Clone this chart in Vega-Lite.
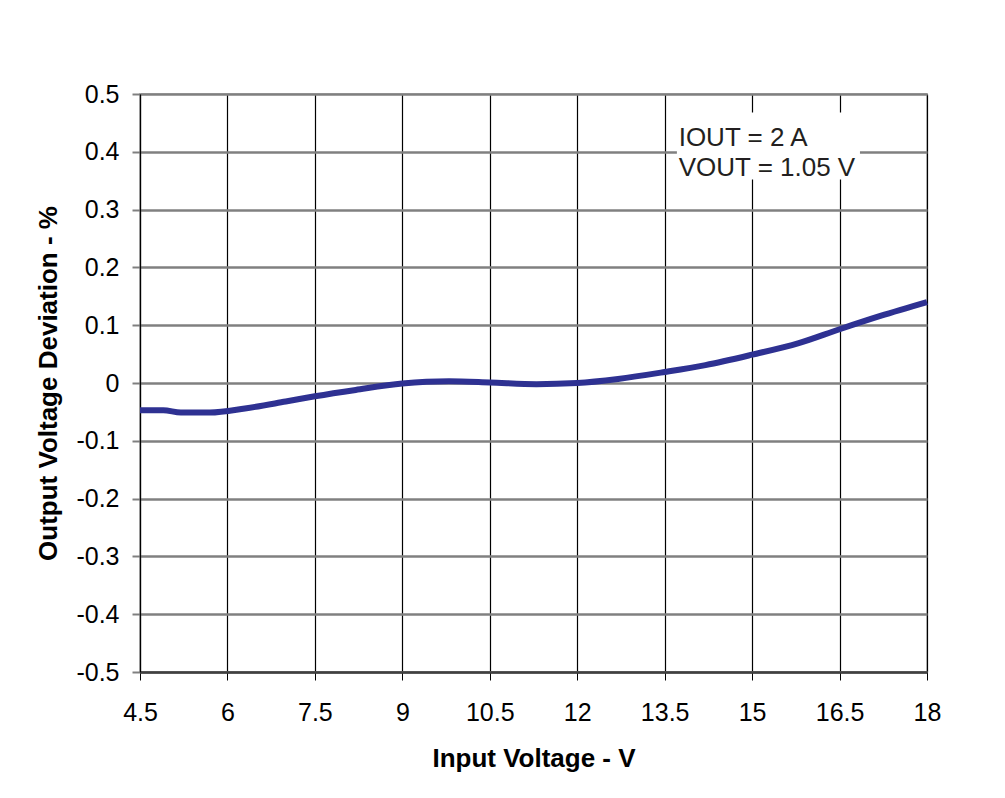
{
  "$schema": "https://vega.github.io/schema/vega-lite/v6.json",
  "width": 787,
  "height": 578,
  "autosize": {"type": "none"},
  "padding": {"left": 140, "top": 94, "right": 78, "bottom": 126},
  "background": "white",
  "config": {
    "font": "Liberation Sans",
    "view": {"stroke": "#c0c0c0", "strokeWidth": 2}
  },
  "datasets": {
    "curve": [
      {"vin": 4.5, "dev": -0.047},
      {"vin": 4.9, "dev": -0.047},
      {"vin": 5.2, "dev": -0.051},
      {"vin": 5.7, "dev": -0.051},
      {"vin": 6.3, "dev": -0.044},
      {"vin": 7.0, "dev": -0.032},
      {"vin": 7.5, "dev": -0.023},
      {"vin": 8.2, "dev": -0.012},
      {"vin": 9.0, "dev": -0.001},
      {"vin": 9.8, "dev": 0.003},
      {"vin": 10.5, "dev": 0.001},
      {"vin": 11.3, "dev": -0.002},
      {"vin": 12.0, "dev": 0.0},
      {"vin": 12.7, "dev": 0.007},
      {"vin": 13.5, "dev": 0.019},
      {"vin": 14.2, "dev": 0.031},
      {"vin": 15.0, "dev": 0.049},
      {"vin": 15.8, "dev": 0.069},
      {"vin": 16.5, "dev": 0.093},
      {"vin": 17.2, "dev": 0.116},
      {"vin": 18.0, "dev": 0.14}
    ],
    "notes": [
      {"x": 13.74, "y": 0.4247, "label": "IOUT = 2 A"},
      {"x": 13.74, "y": 0.3728, "label": "VOUT = 1.05 V"}
    ],
    "box": [
      {"x1": 13.71, "x2": 16.85, "y1": 0.352, "y2": 0.468}
    ]
  },
  "layer": [
    {
      "data": {"name": "curve"},
      "mark": {"type": "line", "color": "#2E3192", "strokeWidth": 6, "interpolate": "monotone", "strokeCap": "butt"},
      "encoding": {
        "x": {
          "field": "vin", "type": "quantitative",
          "scale": {"domain": [4.5, 18], "nice": false, "zero": false},
          "axis": {
            "values": [4.5, 6, 7.5, 9, 10.5, 12, 13.5, 15, 16.5, 18],
            "labelExpr": "replace(format(datum.value, '~g'), '\u2212', '-')",
            "title": "Input Voltage - V",
            "titleFontSize": 26, "titleFontWeight": "bold", "titleColor": "#000",
            "titlePadding": 20,
            "labelFontSize": 25, "labelColor": "#000", "labelPadding": 20,
            "labelFont": "Liberation Sans", "titleFont": "Liberation Sans",
            "domainColor": "#404040", "domainWidth": 2.5,
            "tickColor": "#000", "tickSize": 8, "tickWidth": 1,
            "grid": true, "gridColor": "#000", "gridWidth": 1.2,
            "labelFlush": false
          }
        },
        "y": {
          "field": "dev", "type": "quantitative",
          "scale": {"domain": [-0.5, 0.5], "nice": false, "zero": false},
          "axis": {
            "values": [-0.5, -0.4, -0.3, -0.2, -0.1, 0, 0.1, 0.2, 0.3, 0.4, 0.5],
            "labelExpr": "replace(format(datum.value, '~g'), '\u2212', '-')",
            "title": "Output Voltage Deviation - %",
            "titleFontSize": 26, "titleFontWeight": "bold", "titleColor": "#000",
            "titlePadding": 14,
            "labelFontSize": 25, "labelColor": "#000", "labelPadding": 13,
            "labelFont": "Liberation Sans", "titleFont": "Liberation Sans",
            "domain": true, "domainColor": "#000", "domainWidth": 1.2,
            "tickColor": "#808080", "tickSize": 8, "tickWidth": 2,
            "grid": true, "gridColor": "#808080", "gridWidth": 2.5,
            "labelFlush": false
          }
        }
      }
    },
    {
      "data": {"name": "box"},
      "mark": {"type": "rect", "color": "white", "opacity": 1},
      "encoding": {
        "x": {"field": "x1", "type": "quantitative"},
        "x2": {"field": "x2"},
        "y": {"field": "y1", "type": "quantitative"},
        "y2": {"field": "y2"}
      }
    },
    {
      "data": {"name": "notes"},
      "mark": {"type": "text", "align": "left", "baseline": "middle", "fontSize": 26, "font": "Liberation Sans", "color": "#231f20"},
      "encoding": {
        "x": {"field": "x", "type": "quantitative"},
        "y": {"field": "y", "type": "quantitative"},
        "text": {"field": "label"}
      }
    }
  ]
}
